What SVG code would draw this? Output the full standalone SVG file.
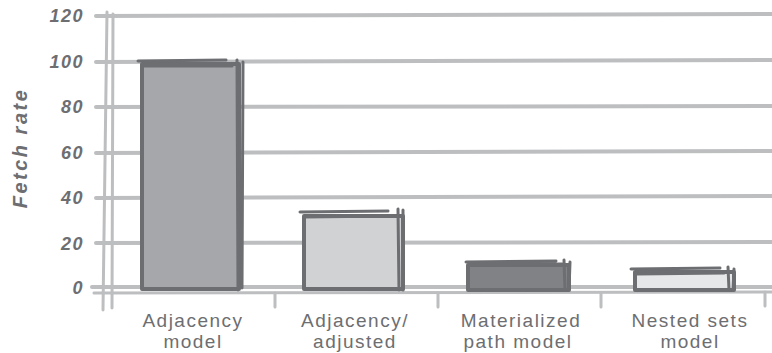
<svg xmlns="http://www.w3.org/2000/svg" width="772" height="353" viewBox="0 0 772 353">
<style>
.grid{stroke:#bcbec0;stroke-width:4;fill:none;stroke-linecap:round}
.axis{stroke:#bcbec0;stroke-width:3;fill:none;stroke-linecap:round}
.tick{font-family:"Liberation Sans",Arial,sans-serif;font-size:18px;font-style:italic;font-weight:bold;fill:#6d6e71;text-anchor:end;letter-spacing:1.5px}
.cat{font-family:"Liberation Sans",Arial,sans-serif;font-size:19px;fill:#6d6e71;text-anchor:middle;letter-spacing:1.5px}
.edge{stroke:#6d6e71;stroke-width:4;stroke-linejoin:round;stroke-linecap:round}
.sk{stroke:#6d6e71;stroke-width:3;fill:none;stroke-linecap:round}
</style>
<rect width="772" height="353" fill="#ffffff"/>
<g id="grid">
<path class="grid" d="M96 16 L772 14"/>
<path class="grid" d="M96 62 L772 60"/>
<path class="grid" d="M96 107 L772 106"/>
<path class="grid" d="M96 153 L772 151"/>
<path class="grid" d="M96 198 L772 196"/>
<path class="grid" d="M96 243 L772 242"/>
<path class="grid" d="M92 287 L772 287"/>
<path class="axis" d="M94 293 L772 292"/>
<path class="axis" d="M107 12 L103 310"/>
<path class="axis" d="M113 14 L112 308"/>
<path class="axis" d="M275 293 L275 307"/>
<path class="axis" d="M438 293 L438 307"/>
<path class="axis" d="M601 293 L601 307"/>
<path class="axis" d="M765 292 L765 306"/>
</g>
<g id="yaxis-labels">
<text class="tick" x="84" y="22">120</text>
<text class="tick" x="84" y="68">100</text>
<text class="tick" x="84" y="113">80</text>
<text class="tick" x="84" y="159">60</text>
<text class="tick" x="84" y="204">40</text>
<text class="tick" x="84" y="250">20</text>
<text class="tick" x="84" y="294">0</text>
<text font-family="'Liberation Sans',Arial,sans-serif" font-size="20" font-style="italic" font-weight="bold" fill="#6d6e71" text-anchor="middle" letter-spacing="2.5" transform="translate(27 148) rotate(-90)">Fetch rate</text>
</g>
<g id="bar-adjacency">
<rect class="edge" x="142" y="64" width="97" height="225" fill="#a6a7aa"/>
<path class="sk" d="M138 61 L226 60 M142 66 L232 66"/>
<path class="sk" d="M237 60 L238 290 M243 62 L242 288" stroke-width="2.5"/>
<text class="cat" x="193" y="327">Adjacency</text>
<text class="cat" x="193" y="348">model</text>
</g>
<g id="bar-adjusted">
<rect class="edge" x="304" y="216" width="99" height="73" fill="#d1d2d4"/>
<path class="sk" d="M300 212 L388 211 M304 217 L390 216"/>
<path class="sk" d="M398 209 L399 290 M403 210 L403 290" stroke-width="2.5"/>
<text class="cat" x="355" y="327">Adjacency/</text>
<text class="cat" x="355" y="348">adjusted</text>
</g>
<g id="bar-materialized">
<rect class="edge" x="468" y="265" width="101" height="25" fill="#808285"/>
<path class="sk" d="M466 262 L556 261 M470 265 L562 264"/>
<path class="sk" d="M564 260 L565 290 M570 262 L569 290" stroke-width="2.5"/>
<text class="cat" x="521" y="327">Materialized</text>
<text class="cat" x="518" y="348">path model</text>
</g>
<g id="bar-nested">
<rect class="edge" x="635" y="272" width="99" height="18" fill="#e6e7e8"/>
<path class="sk" d="M631 269 L720 268 M636 274 L724 273"/>
<path class="sk" d="M728 267 L729 290 M734 269 L733 290" stroke-width="2.5"/>
<text class="cat" x="690" y="327">Nested sets</text>
<text class="cat" x="690" y="348">model</text>
</g>
</svg>
